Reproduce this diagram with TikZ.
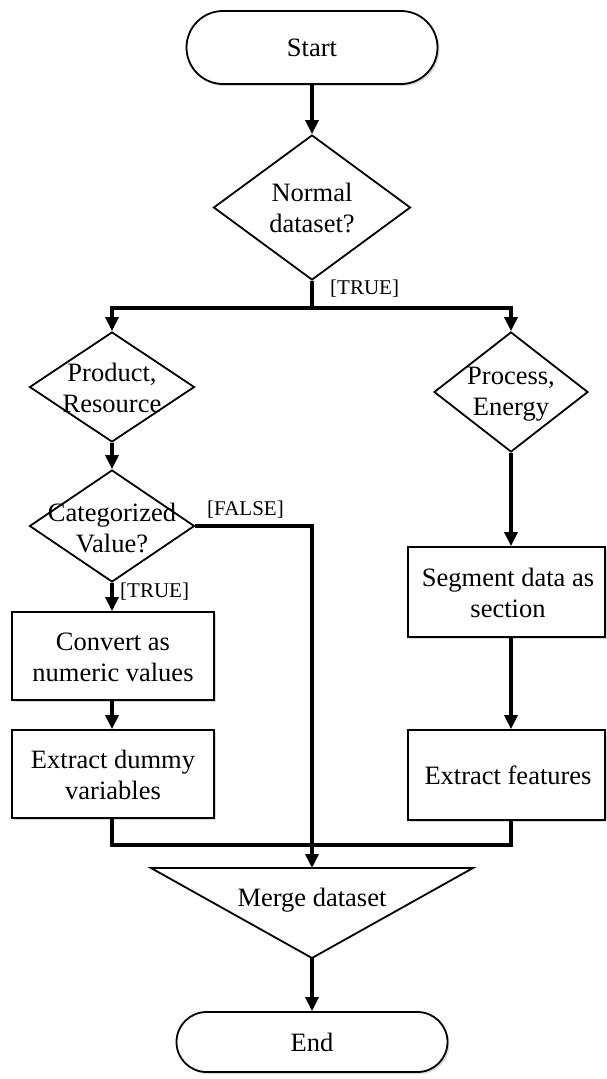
\documentclass[tikz,border=0pt]{standalone}
\usepackage{fontspec}
\setmainfont{Liberation Serif}
\usetikzlibrary{arrows.meta,shapes.geometric,shapes.misc,shadows}
\begin{document}
\begin{tikzpicture}[x=1pt,y=-1pt,
  every node/.style={font=\fontsize{26.5}{31}\selectfont},
  term/.style={draw,line width=1.8pt,rounded rectangle,fill=white,inner sep=0pt,
     drop shadow={shadow xshift=2pt,shadow yshift=-2pt,opacity=0.3}},
  dia/.style={draw,line width=1.8pt,diamond,inner sep=0pt,fill=white},
  procbox/.style={draw,line width=1.8pt,rectangle,fill=white,inner sep=0pt,
     drop shadow={shadow xshift=2pt,shadow yshift=-2pt,opacity=0.3}},
  txt/.style={align=center,inner sep=0pt},
  lbl/.style={font=\fontsize{21}{24}\selectfont,inner sep=0pt,anchor=west},
  conn/.style={line width=3.6pt},
  arr/.style={conn,-{Triangle[length=14pt,width=13pt]}}
]
\useasboundingbox (0,0) rectangle (607,1079);

% nodes
\node[term,minimum width=251pt,minimum height=73pt] (start) at (312,47.5) {Start};
\node[dia,minimum width=197pt,minimum height=145pt] (normal) at (312,207.5) {};
\node[txt] (normalt) at (312,208) {Normal\\dataset?};

\node[dia,minimum width=165pt,minimum height=110pt] (prod) at (112,387) {};
\node[txt] (prodt) at (112,388) {Product,\\Resource};

\node[dia,minimum width=165pt,minimum height=112pt] (cat) at (112,526) {};
\node[txt] (catt) at (112,528) {Categorized\\Value?};

\node[dia,minimum width=154pt,minimum height=120pt] (proc) at (511,392) {};
\node[txt] (proct) at (511,394) {Process,\\Energy};

\node[procbox,minimum width=202pt,minimum height=88pt] (conv) at (113,656) {};
\node[txt] (convt) at (113,657) {Convert as\\numeric values};

\node[procbox,minimum width=202pt,minimum height=88pt] (dummy) at (113,774) {};
\node[txt] (dummyt) at (113,775) {Extract dummy\\variables};

\node[procbox,minimum width=197pt,minimum height=90pt] (seg) at (506.5,592) {};
\node[txt] (segt) at (508,593) {Segment data as\\section};

\node[procbox,minimum width=197pt,minimum height=90pt] (feat) at (506.5,775) {};
\node[txt] (featt) at (508,775) {Extract features};

% merge triangle
\draw[line width=1.8pt,fill=white] (151,868) -- (473,868) -- (312,958) -- cycle;
\coordinate (mtop) at (312,868);
\coordinate (mbot) at (312,958);
\node[txt] (merget) at (312,900) {Merge dataset};

\node[term,minimum width=271pt,minimum height=60pt] (end) at (312,1042) {End};

% junctions
\coordinate (j1) at (312,308);
\coordinate (j2) at (312,845);

% connectors
\draw[arr] (start.south) -- (normal.north);
\draw[conn] (normal.south) -- (j1);
\draw[arr] (j1) -| (prod.north);
\draw[arr] (j1) -| (proc.north);
\draw[arr] (prod.south) -- (cat.north);
\draw[arr] (cat.south) -- (cat.south |- conv.north);
\draw[arr] (cat.south |- conv.south) -- (cat.south |- dummy.north);
\draw[arr] (cat.east) -| (mtop);
\draw[conn] (cat.south |- dummy.south) |- (j2);
\draw[arr] (proc.south) -- (proc.south |- seg.north);
\draw[arr] (proc.south |- seg.south) -- (proc.south |- feat.north);
\draw[conn] (proc.south |- feat.south) |- (j2);
\draw[arr] (mbot) -- (end.north);

% labels
\node[lbl] (l1) at (330,289) {[TRUE]};
\node[lbl] (l2) at (207,510) {[FALSE]};
\node[lbl] (l3) at (120,592) {[TRUE]};
\end{tikzpicture}
\end{document}
